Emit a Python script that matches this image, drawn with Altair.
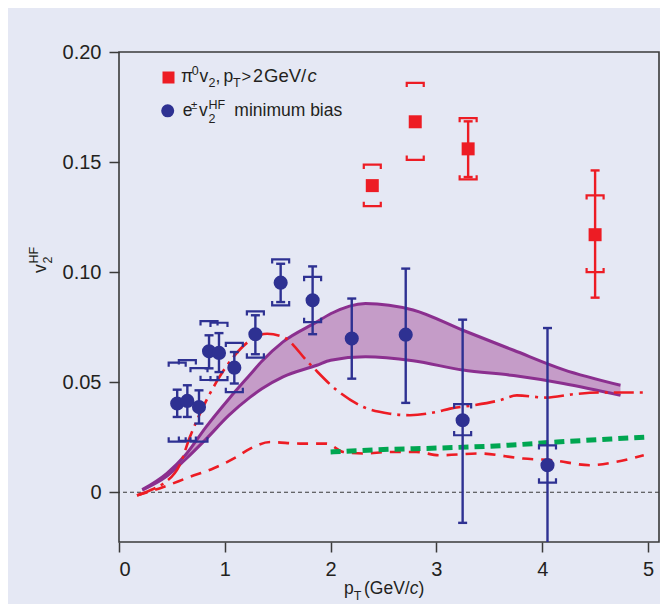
import altair as alt
import pandas as pd

# ---------------- data ----------------
# e± v2^HF minimum bias (blue circles)
blue_x = [0.55, 0.646, 0.756, 0.851, 0.945, 1.09, 1.289, 1.528, 1.83, 2.2, 2.71, 3.248, 4.05]
blue_y = [0.0403, 0.0415, 0.0387, 0.064, 0.0633, 0.0566, 0.0718, 0.0952, 0.0872, 0.0698, 0.0716, 0.0327, 0.0123]
blue_stat_lo = [0.0342, 0.0342, 0.0312, 0.0563, 0.0546, 0.0494, 0.0627, 0.0864, 0.0718, 0.0516, 0.0406, -0.0139, -0.05]
blue_stat_hi = [0.0466, 0.0486, 0.0463, 0.0713, 0.0723, 0.0637, 0.0804, 0.1038, 0.1026, 0.088, 0.1016, 0.0784, 0.0746]
blue_sys_lo = [0.0230, 0.0234, 0.0230, 0.0510, 0.0509, 0.0455, 0.0612, 0.0849, 0.0773, None, None, 0.0259, 0.0044]
blue_sys_hi = [0.0589, 0.0600, 0.0564, 0.0777, 0.0770, 0.0679, 0.0822, 0.1058, 0.0978, None, None, 0.0400, 0.0213]

# pi0 v2, pT > 2 GeV/c (red squares)
red_x = [2.394, 2.80, 3.30, 4.50]
red_y = [0.1393, 0.1683, 0.156, 0.117]
red_stat_lo = [None, None, 0.1432, 0.0884]
red_stat_hi = [None, None, 0.1685, 0.1462]
red_sys_lo = [0.130, 0.151, 0.1421, 0.100]
red_sys_hi = [0.1488, 0.186, 0.170, 0.1349]

# purple theory band
band_x = [0.22, 0.45, 0.63, 0.82, 1.04, 1.24, 1.35, 1.55, 1.87, 2.0, 2.33, 2.78, 3.25, 3.73, 4.2, 4.74]
band_hi = [0.0012, 0.0085, 0.0170, 0.0295, 0.0425, 0.0535, 0.0595, 0.0683, 0.0774, 0.0811, 0.0858, 0.0828, 0.0736, 0.0645, 0.0557, 0.0486]
band_lo = [0.0010, 0.0072, 0.0150, 0.0240, 0.0350, 0.0432, 0.0470, 0.0524, 0.0577, 0.0600, 0.0615, 0.0597, 0.0555, 0.0530, 0.0494, 0.0440]

# red dash-dot curve
dd_x = [0.17, 0.30, 0.42, 0.58, 0.67, 0.78, 0.92, 1.08, 1.24, 1.40, 1.55, 1.80, 2.06, 2.31, 2.56, 2.75, 3.0, 3.13, 3.35, 3.60, 3.76, 4.04, 4.29, 4.55, 5.0]
dd_y = [-0.0015, 0.001, 0.004, 0.013, 0.0251, 0.0372, 0.050, 0.0614, 0.069, 0.072, 0.0706, 0.0584, 0.0463, 0.0387, 0.0357, 0.035, 0.0365, 0.038, 0.0395, 0.0418, 0.044, 0.043, 0.0445, 0.0453, 0.0453]

# red dashed curve
rd_x = [0.17, 0.42, 0.67, 0.89, 1.11, 1.24, 1.43, 1.71, 1.96, 2.12, 2.31, 2.56, 2.81, 3.03, 3.41, 3.82, 4.10, 4.45, 4.70, 4.96]
rd_y = [-0.0014, 0.0024, 0.007, 0.0108, 0.016, 0.0198, 0.0228, 0.0221, 0.0221, 0.0183, 0.0176, 0.0183, 0.0183, 0.0168, 0.0176, 0.0153, 0.0145, 0.0123, 0.0138, 0.0168]

# green dashed curve
gd_x = [2.0, 2.5, 3.03, 3.66, 4.14, 4.61, 4.99]
gd_y = [0.0183, 0.0194, 0.0201, 0.0213, 0.0228, 0.0241, 0.0251]

x_ticks = [0, 1, 2, 3, 4, 5]
y_ticks = [0, 0.05, 0.10, 0.15, 0.20]

# ---------------- styling ----------------
FONT = "Liberation Sans, Arial, sans-serif"
BG = "#e5e8f4"
INK = "#231f20"
FRAME = "#3a3a3a"
BLUE = "#2e3192"
RED = "#ed1c24"
GREEN = "#00a651"
PURPLE = "#8b2f8f"
PFILL = "#c59cc8"

PLOT_W = 540
PLOT_H = 490
xs = alt.Scale(domain=[0, PLOT_W / 105.8], nice=False, zero=False)
ys = alt.Scale(domain=[-0.0226, 0.20], nice=False, zero=False)

xaxis = alt.Axis(values=x_ticks, format="d", title=None, grid=False, domain=False,
                 tickSize=10, tickWidth=1.5, tickColor=FRAME, labelFont=FONT,
                 labelFontSize=20, labelColor=INK, labelPadding=7, labelOverlap=False)
yaxis = alt.Axis(values=y_ticks, title=None, grid=False, domain=False,
                 labelExpr="datum.value == 0 ? '0' : format(datum.value, '.2f')",
                 tickSize=10, tickWidth=1.5, tickColor=FRAME, labelFont=FONT,
                 labelFontSize=20, labelColor=INK, labelPadding=8, labelOverlap=False)

blue_df = pd.DataFrame(dict(x=blue_x, y=blue_y, slo=blue_stat_lo, shi=blue_stat_hi,
                            ylo=blue_sys_lo, yhi=blue_sys_hi))
red_df = pd.DataFrame(dict(x=red_x, y=red_y, slo=red_stat_lo, shi=red_stat_hi,
                           ylo=red_sys_lo, yhi=red_sys_hi))
band_df = pd.DataFrame(dict(x=band_x, lo=band_lo, hi=band_hi))
dd_df = pd.DataFrame(dict(x=dd_x, y=dd_y))
rd_df = pd.DataFrame(dict(x=rd_x, y=rd_y))
gd_df = pd.DataFrame(dict(x=gd_x, y=gd_y))

TOP_BRACKET = "M-1,0.5L-1,0L1,0L1,0.5"
BOT_BRACKET = "M-1,-0.5L-1,0L1,0L1,-0.5"

zero_line = alt.Chart(pd.DataFrame({"y": [0.0]})).mark_rule(
    color=FRAME, strokeWidth=1, strokeDash=[4, 3]).encode(
    y=alt.Y("y:Q", scale=ys, axis=yaxis))

band = alt.Chart(band_df).mark_area(color=PFILL, opacity=1, interpolate="monotone").encode(
    x=alt.X("x:Q", scale=xs, axis=xaxis),
    y=alt.Y("lo:Q", scale=ys, axis=yaxis),
    y2="hi:Q")
band_hi_line = alt.Chart(band_df).mark_line(color=PURPLE, strokeWidth=3, interpolate="monotone").encode(
    x="x:Q", y="hi:Q")
band_lo_line = alt.Chart(band_df).mark_line(color=PURPLE, strokeWidth=3, interpolate="monotone").encode(
    x="x:Q", y="lo:Q")

rd_line = alt.Chart(rd_df).mark_line(color=RED, strokeWidth=2.6, strokeDash=[11, 8],
                                     interpolate="monotone").encode(x="x:Q", y="y:Q")
gd_line = alt.Chart(gd_df).mark_line(color=GREEN, strokeWidth=5, strokeDash=[10, 6],
                                     interpolate="monotone").encode(x="x:Q", y="y:Q")
dd_line = alt.Chart(dd_df).mark_line(color=RED, strokeWidth=2.6, strokeDash=[20, 6, 3, 6],
                                     interpolate="monotone").encode(x="x:Q", y="y:Q")


def err_layers(df, color, sym_size):
    stat = df.dropna(subset=["slo"])
    sysd = df.dropna(subset=["ylo"])
    rule = alt.Chart(stat).mark_rule(color=color, strokeWidth=2.4, clip=True).encode(
        x="x:Q", y="slo:Q", y2="shi:Q")
    cap_lo = alt.Chart(stat).mark_tick(color=color, orient="horizontal", size=9, thickness=2.4,
                                       clip=True, opacity=1).encode(x="x:Q", y="slo:Q")
    cap_hi = alt.Chart(stat).mark_tick(color=color, orient="horizontal", size=9, thickness=2.4,
                                       opacity=1).encode(x="x:Q", y="shi:Q")
    br_hi = alt.Chart(sysd).mark_point(shape=TOP_BRACKET, size=sym_size, filled=False,
                                       color=color, strokeWidth=2.2, opacity=1).encode(x="x:Q", y="yhi:Q")
    br_lo = alt.Chart(sysd).mark_point(shape=BOT_BRACKET, size=sym_size, filled=False,
                                       color=color, strokeWidth=2.2, opacity=1).encode(x="x:Q", y="ylo:Q")
    return [rule, cap_lo, cap_hi, br_hi, br_lo]


blue_pts = alt.Chart(blue_df).mark_circle(color=BLUE, size=200, opacity=1).encode(x="x:Q", y="y:Q")
red_pts = alt.Chart(red_df).mark_square(color=RED, size=169, opacity=1).encode(x="x:Q", y="y:Q")

# ---------------- legend and titles (text, pixel positions in the plot frame) ----------------
txt_t = ["π", "0", "v", "2", ",", "p", "T", ">", "2", "GeV/",
         "e", "±", "v", "HF", "2", "minimum bias",
         "p", "T", "(GeV/", ")"]
txt_x = [62, 72.8, 80.5, 89.5, 96.5, 104.5, 114, 122.5, 134, 145,
         63.7, 72, 80, 89.5, 89.5, 115.3,
         225, 234.7, 245, 299.5]
txt_y = [29.5, 22.5, 29.5, 35, 29.5, 29.5, 35, 29.5, 29.5, 29.5,
         64, 56.5, 64, 56.5, 70.5, 64,
         542, 547.5, 542, 542]
txt_s = [17.5, 12.5, 17.5, 12.5, 17.5, 17.5, 12.5, 16.5, 18, 18.5,
         17.5, 11.5, 17.5, 12.5, 12.5, 17.5,
         17.5, 12.5, 17.5, 17.5]

ital_t = ["c", "c"]
ital_x = [188.5, 290.7]
ital_y = [29.5, 542]
ital_s = [18.5, 17.5]

rot_t = ["v", "HF", "2"]
rot_x = [-73, -81, -67.5]
rot_y = [221, 211.5, 211.5]
rot_s = [17.5, 12.5, 12.5]

txt_df = pd.DataFrame(dict(t=txt_t, px=txt_x, py=txt_y, fs=txt_s))
ital_df = pd.DataFrame(dict(t=ital_t, px=ital_x, py=ital_y, fs=ital_s))
rot_df = pd.DataFrame(dict(t=rot_t, px=rot_x, py=rot_y, fs=rot_s))


def text_layer(df, **kw):
    return alt.Chart(df).mark_text(align="left", baseline="alphabetic", font=FONT,
                                   color=INK, **kw).encode(
        x=alt.X("px:Q", scale=None),
        y=alt.Y("py:Q", scale=None),
        size=alt.Size("fs:Q", scale=None, legend=None),
        text="t:N")


texts = text_layer(txt_df)
itals = text_layer(ital_df, fontStyle="italic")
rots = text_layer(rot_df, angle=270)

one = pd.DataFrame({"a": [0]})
leg_sq = alt.Chart(one).mark_square(color=RED, size=144, opacity=1).encode(
    x=alt.value(49.5), y=alt.value(25.5))
leg_ci = alt.Chart(one).mark_circle(color=BLUE, size=170, opacity=1).encode(
    x=alt.value(48.7), y=alt.value(58.8))

layers = [zero_line, band, band_hi_line, band_lo_line, rd_line, gd_line, dd_line]
layers += err_layers(blue_df, BLUE, 289)
layers += [blue_pts]
layers += err_layers(red_df, RED, 289)
layers += [red_pts, leg_sq, leg_ci, texts, itals, rots]

chart = alt.layer(*layers).properties(
    width=PLOT_W, height=PLOT_H,
    padding={"left": 111, "top": 44, "right": 1, "bottom": 62},
    autosize=alt.AutoSizeParams(type="none"),
    background=BG,
).configure_view(stroke=FRAME, strokeWidth=1.6, fill=BG)

chart.save("out.html", embed_options={"renderer": "svg", "actions": False})
